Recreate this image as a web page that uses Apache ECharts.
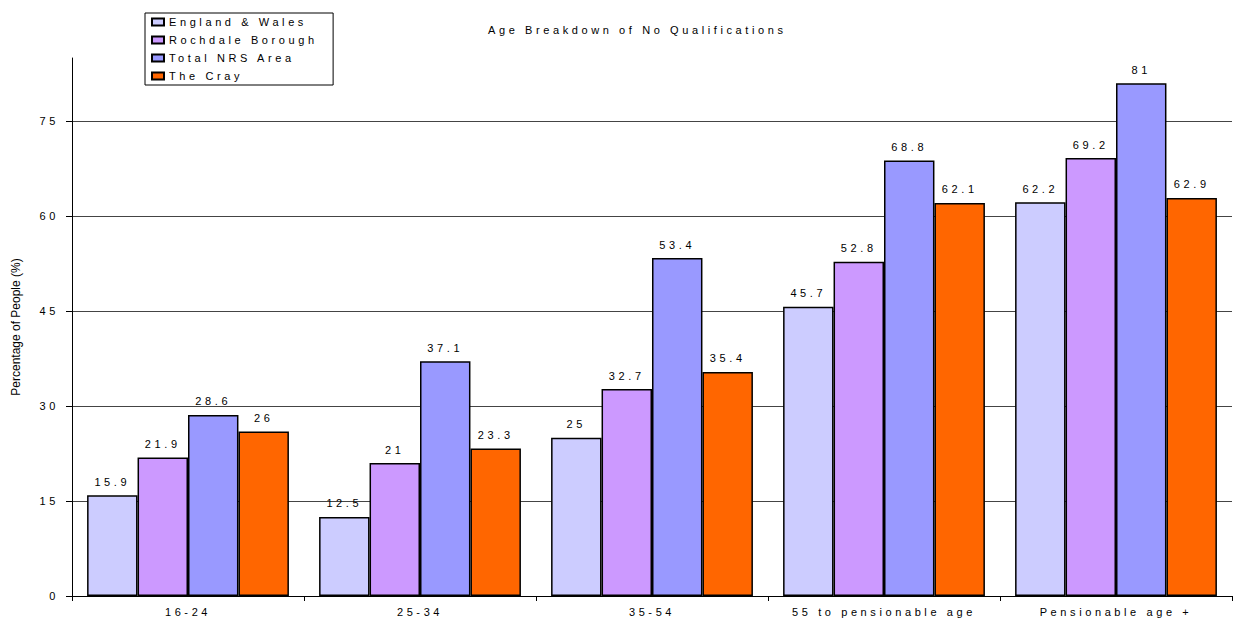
<!DOCTYPE html>
<html>
<head>
<meta charset="utf-8">
<script src="https://cdn.jsdelivr.net/npm/echarts@6/dist/echarts.min.js"></script>
<style>
  html, body { margin: 0; padding: 0; background: #fff; }
  #c { width: 1239px; height: 619px; }
  #c text { letter-spacing: 3.6px; }
  #c text[style*="Arial"] { letter-spacing: 0px; }
</style>
</head>
<body>
<div id="c"></div>
<script>
const categories = ['16-24', '25-34', '35-54', '55 to pensionable age', 'Pensionable age +'];
const englandWales = [15.9, 12.5, 25, 45.7, 62.2];
const rochdale = [21.9, 21, 32.7, 52.8, 69.2];
const totalNRS = [28.6, 37.1, 53.4, 68.8, 81];
const theCray = [26, 23.3, 35.4, 62.1, 62.9];
const seriesNames = ['England & Wales', 'Rochdale Borough', 'Total NRS Area', 'The Cray'];
const seriesColors = ['#CCCCFF', '#CC99FF', '#9999FF', '#FF6600'];
const seriesData = [englandWales, rochdale, totalNRS, theCray];

const FONT = 'Liberation Sans';
const chart = echarts.init(document.getElementById('c'), null, { renderer: 'svg' });

chart.setOption({
  animation: false,
  backgroundColor: '#fff',
  title: {
    text: 'Age Breakdown of No Qualifications',
    left: 488, top: 24,
    padding: 0,
    textStyle: { fontFamily: FONT, fontSize: 11, fontWeight: 'normal', color: '#000' }
  },
  legend: {
    orient: 'vertical',
    left: 145, top: 13,
    padding: [2, 73, 2, 6],
    itemGap: 4,
    itemWidth: 12, itemHeight: 7,
    icon: 'rect',
    backgroundColor: '#fff',
    borderColor: '#000', borderWidth: 1,
    textStyle: { fontFamily: FONT, fontSize: 11, color: '#000', lineHeight: 14 },
    data: seriesNames
  },
  grid: { left: 72, right: 7, top: 58, bottom: 23, containLabel: false },
  xAxis: {
    type: 'category',
    data: categories,
    axisLine: { lineStyle: { color: '#000', width: 1 } },
    axisTick: { show: true, length: 5, lineStyle: { color: '#000' } },
    axisLabel: { fontFamily: FONT, fontSize: 11, color: '#000', margin: 10 }
  },
  yAxis: {
    type: 'value',
    min: 0, max: 85, interval: 15,
    name: 'Percentage of People (%)',
    nameLocation: 'middle',
    nameGap: 50,
    nameTextStyle: { fontFamily: 'Arial', fontSize: 12, color: '#000' },
    axisLine: { show: true, lineStyle: { color: '#000', width: 1 } },
    axisTick: { show: true, length: 6, lineStyle: { color: '#000' } },
    axisLabel: { fontFamily: FONT, fontSize: 11, color: '#000', margin: 13, showMaxLabel: false },
    splitLine: { show: true, showMaxLine: false, lineStyle: { color: '#444', width: 1 } }
  },
  series: seriesNames.map((name, i) => ({
    name: name,
    type: 'bar',
    data: seriesData[i],
    barGap: '0%',
    barCategoryGap: '13%',
    itemStyle: { color: seriesColors[i], borderColor: '#000', borderWidth: 1.5 },
    label: {
      show: true, position: 'top', distance: 8,
      fontFamily: FONT, fontSize: 11, color: '#000'
    }
  }))
});
</script>
</body>
</html>
